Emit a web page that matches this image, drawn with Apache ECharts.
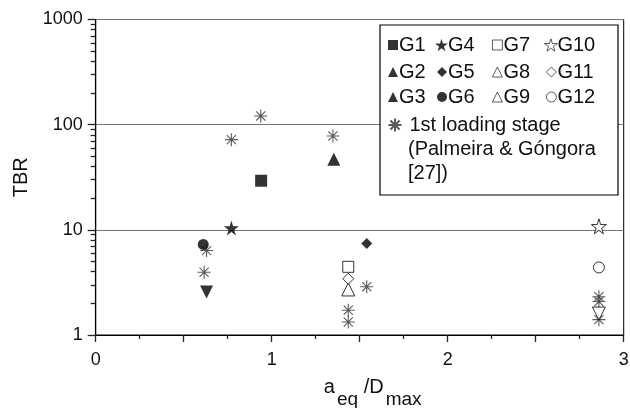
<!DOCTYPE html>
<html>
<head>
<meta charset="utf-8">
<script src="https://cdn.jsdelivr.net/npm/echarts@6/dist/echarts.min.js"></script>
<style>
  html, body { margin: 0; padding: 0; background: #fff; }
  #main { width: 630px; height: 408px; }
</style>
</head>
<body>
<div id="main"></div>
<script type="text/javascript">
    // test groups G1..G12 (one point each)
    var groupNames = ['G1', 'G2', 'G3', 'G4', 'G5', 'G6', 'G7', 'G8', 'G9', 'G10', 'G11', 'G12'];
    var groupX   = [0.94, 1.353, 0.63, 0.771, 1.54, 0.611, 1.435, 1.435, 2.859, 2.859, 1.435, 2.859];
    var groupTBR = [29.3, 47, 2.56, 10.4, 7.4, 7.26, 4.45, 2.71, 1.6, 10.8, 3.43, 4.39];

    // 1st loading stage (Palmeira & Góngora [27])
    var stageName = '1st loading stage';
    var stageX   = [0.938, 0.771, 1.348, 0.63, 0.616, 1.54, 1.435, 1.435, 2.859, 2.859, 2.859];
    var stageTBR = [121, 72, 78, 6.35, 3.95, 2.88, 1.72, 1.33, 2.31, 2.08, 1.4];

    var yMajor = [1, 10, 100, 1000];
    var yMinor = [2, 3, 4, 5, 6, 7, 8, 9, 20, 30, 40, 50, 60, 70, 80, 90, 200, 300, 400, 500, 600, 700, 800, 900];
    var xLabels = [0, 1, 2, 3];

    var FONT = '"Liberation Sans", Arial, sans-serif';
    var STAR = 'path://M50,0L61,35L98,35L68,57L79,91L50,70L21,91L32,57L2,35L39,35Z';
    var AST = 'path://M10,0L10,20M0,10L20,10M3,3L17,17M3,17L17,3';

    // symbol / fill per group
    var sym    = ['rect', 'triangle', 'triangle', STAR, 'diamond', 'circle', 'rect', 'triangle', 'triangle', STAR, 'diamond', 'circle'];
    var rot    = [0, 0, 180, 0, 0, 0, 0, 0, 180, 0, 0, 0];
    var size   = [12, 13, 13, 15, 11, 11, 11, 13, 13, 15, 11, 11];
    var filled = [true, true, true, true, true, true, false, false, false, false, false, false];

    var series = [];
    for (var i = 0; i < groupNames.length; i++) {
        series.push({
            name: groupNames[i],
            type: 'scatter',
            symbol: sym[i],
            symbolRotate: rot[i],
            symbolSize: size[i],
            z: 3,
            itemStyle: filled[i]
                ? { color: '#000', borderWidth: 0 }
                : { color: '#fff', borderColor: '#000', borderWidth: 1 },
            data: [[groupX[i], groupTBR[i]]]
        });
    }
    series.push({
        name: stageName,
        type: 'scatter',
        symbol: AST,
        symbolSize: 13,
        z: 2,
        itemStyle: { color: 'none', borderColor: '#333', borderWidth: 1.1 },
        data: stageX.map(function (x, k) { return [x, stageTBR[k]]; })
    });

    // legend: 4 columns x 3 rows + the stage entry
    var colLeft = [388, 437, 492, 546];
    var rowTop = [35, 62, 87];
    var legends = [];
    for (var j = 0; j < groupNames.length; j++) {
        var col = Math.floor(j / 3), row = j % 3;
        var isStar = sym[j] === STAR;
        legends.push({
            data: [groupNames[j]],
            left: isStar ? colLeft[col] - 2 : colLeft[col],
            top: isStar ? rowTop[row] - 2 : rowTop[row],
            padding: 0,
            itemWidth: isStar ? 13 : 10,
            itemHeight: isStar ? 13 : 10,
            symbolRotate: rot[j],
            itemStyle: filled[j] ? { borderWidth: 0 } : { borderWidth: 0.8 },
            selectedMode: false,
            textStyle: {
                fontFamily: FONT, fontSize: 20, lineHeight: isStar ? 24 : 20, color: '#111',
                padding: [0, 0, 0, isStar ? -5 : -4]
            }
        });
    }
    legends.push({
        data: [stageName],
        left: 386,
        top: 115,
        padding: 0,
        itemWidth: 13,
        itemHeight: 13,
        selectedMode: false,
        textStyle: { fontFamily: FONT, fontSize: 20, lineHeight: 20, color: '#111', padding: [0, 0, 0, 3] }
    });

    var myChart = echarts.init(document.getElementById('main'));
    var option = {
        animation: false,
        backgroundColor: '#fff',
        textStyle: { fontFamily: FONT },
        grid: {
            left: 95.7, right: 6.3, top: 19.5, bottom: 73,
            outerBoundsMode: 'none',
            show: true, borderColor: '#000', borderWidth: 1
        },
        legend: legends,
        graphic: [
            {
                type: 'rect', z: 3,
                shape: { x: 380, y: 25, width: 238, height: 170 },
                style: { fill: '#fff', stroke: '#000', lineWidth: 1.2 }
            },
            {
                type: 'text', z: 5, left: 408, top: 139,
                style: { text: '(Palmeira & Góngora', font: '20px ' + FONT, fill: '#111' }
            },
            {
                type: 'text', z: 5, left: 408, top: 163,
                style: { text: '[27])', font: '20px ' + FONT, fill: '#111' }
            }
        ],
        xAxis: {
            type: 'value',
            min: 0, max: 3, interval: 0.5,
            name: '{m|a}{s|eq}{m| /D}{s|max}',
            nameLocation: 'middle',
            nameGap: 30,
            nameTextStyle: {
                padding: [0, 0, 0, 26],
                rich: {
                    m: { fontFamily: FONT, fontSize: 20, color: '#111', lineHeight: 24, verticalAlign: 'middle' },
                    s: { fontFamily: FONT, fontSize: 19, color: '#111', lineHeight: 44, verticalAlign: 'bottom', padding: [0, 0, 0, 2] }
                }
            },
            axisLine: { show: true, lineStyle: { color: '#000', width: 1.2 } },
            axisTick: { show: true, inside: false, length: 7, lineStyle: { color: '#222', width: 1.3 } },
            minorTick: { show: true, splitNumber: 2, length: 4, lineStyle: { color: '#222', width: 1.3 } },
            axisLabel: {
                margin: 16, fontSize: 18, color: '#111', fontFamily: FONT,
                formatter: function (v) { return xLabels.indexOf(v) >= 0 ? String(v) : ''; }
            },
            splitLine: { show: false }
        },
        yAxis: [
            {
                type: 'log', logBase: 10,
                min: 1, max: 1000,
                position: 'left',
                name: 'TBR',
                nameLocation: 'middle',
                nameGap: 64,
                nameTextStyle: { fontFamily: FONT, fontSize: 20, color: '#111' },
                axisLine: { show: true, lineStyle: { color: '#000', width: 1.2 } },
                axisTick: { show: true, inside: false, length: 8, lineStyle: { color: '#222', width: 1.3 } },
                axisLabel: {
                    margin: 13, fontSize: 18, color: '#111', fontFamily: FONT,
                    formatter: function (v) { return yMajor.indexOf(Math.round(v)) >= 0 ? String(Math.round(v)) : ''; }
                },
                splitLine: { show: true, lineStyle: { color: '#777', width: 1.2 } }
            },
            {
                // minor log ticks only
                type: 'log', logBase: 10,
                min: 1, max: 1000,
                position: 'left',
                offset: 0,
                axisLine: { show: false },
                axisTick: { show: true, inside: false, length: 5, customValues: yMinor, lineStyle: { color: '#222', width: 1.3 } },
                axisLabel: { show: false },
                splitLine: { show: false }
            }
        ],
        series: series
    };

    myChart.setOption(option);
</script>
</body>
</html>
